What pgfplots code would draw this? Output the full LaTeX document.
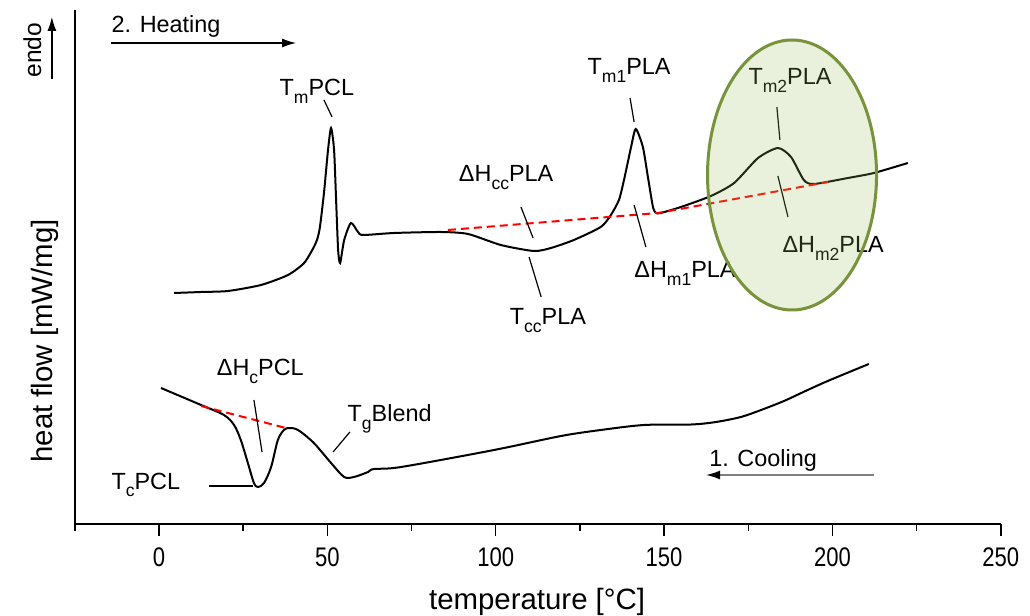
\documentclass[border=0pt]{standalone}
\usepackage{pgfplots}
\pgfplotsset{compat=1.18}
\usepackage{fontspec}
\usepackage{graphicx}
\setmainfont{Liberation Sans}
\newfontfamily\tickfont[FakeStretch=0.82]{Liberation Sans}
\usetikzlibrary{arrows.meta}
\definecolor{olivedge}{RGB}{119,147,60}
\definecolor{lgreen}{RGB}{155,187,89}
\newcommand{\sub}[1]{\raisebox{-0.3em}{\scalebox{0.75}{#1}}}
\tikzset{ann/.style={anchor=base, font=\fontsize{11.75}{14}\selectfont}}
\begin{document}
\begin{tikzpicture}
\path[use as bounding box] (-37.4bp,-46bp) rectangle (477.6bp,262bp);
\begin{axis}[
 scale only axis, width=463bp, height=257bp,
 xmin=-25, xmax=250, ymin=0, ymax=514,
 axis x line*=bottom, axis y line*=left,
 axis line style={line width=0.75bp},
 xtick={0,50,...,250}, minor xtick={-25,25,75,125,175,225},
 ytick=\empty,
 tick align=outside,
 major tick length=6bp, minor tick length=3.5bp,
 every tick/.style={black, line width=0.75bp},
 /pgf/number format/assume math mode=true,
 xticklabel style={font=\tickfont\fontsize{13.5}{15}\selectfont, yshift=-2.5bp},
 clip=false,
]
% curves
\addplot[black, line width=1bp, smooth, tension=0.4] coordinates {
(4.5,231)(12.5,232)(20.5,233)(30.3,239)(38.3,249)(43.1,261)(46.0,277)(47.1,286)(47.8,297)(49.0,331)(50.2,374)(51.1,396)(52.0,374)(52.6,324)(53.2,274)(53.8,261)(55.0,284)(57.0,301)(59.1,292)(60.6,289)(69.8,291)(83.8,292)(91.8,290)(101.5,279)(111.3,273)(116.4,276)(123.2,284)(131.2,297)(134.2,309)(136.6,324)(138.1,344)(140.2,377)(141.6,395)(143.7,377)(145.2,347)(146.7,317)(147.6,311)(149.0,311)(155.0,317)(163.9,328)(170.8,341)(177.9,366)(183.8,376)(187.7,367)(191.5,344)(194.5,340)(204.6,346)(212.3,351)(222.4,361)};
\addplot[black, line width=1bp, smooth, tension=0.5] coordinates {
(0.6,136)(12.5,119)(19.3,109)(22.3,99)(24.3,84)(26.4,61)(28.2,41)(29.4,37)(31.2,41)(33.3,57)(35.3,84)(37.1,94)(38.6,96)(41.3,94)(46.0,81)(51.1,61)(55.0,47)(57.9,47)(62.1,52)(63.8,55)(71.9,57)(99.5,74)(119.4,88)(131.2,94)(144.0,99)(158.0,99.5)(165.4,102)(172.8,107)(178.8,114)(185.6,123)(192.0,133)(198.6,143)(210.8,160)};
% baselines
\addplot[red, line width=1bp, dash pattern=on 4bp off 2.5bp] coordinates {(12.5,118)(37.7,96)};
\addplot[red, line width=1bp, dash pattern=on 4bp off 2.5bp] coordinates {(85.8,294)(148.2,311)(198.7,342)};
% axis labels
\node[anchor=base, font=\fontsize{14.75}{17}\selectfont] at (axis cs:112.3,-85) {temperature [°C]};
\node[anchor=base, rotate=90, font=\fontsize{14.75}{17}\selectfont] at (axis cs:-31.5,183) {heat flow [mW/mg]};
\node[anchor=base, rotate=90, font=\fontsize{12.3}{14}\selectfont] at (axis cs:-35,474) {endo};
\draw[line width=0.6bp, -{Latex[length=7bp,width=4.5bp]}] (axis cs:-31.8,445) -- (axis cs:-31.8,507);
% heating / cooling
\node[ann] at (axis cs:2.1,491) {2. Heating};
\draw[line width=0.6bp, -{Latex[length=7bp,width=4.5bp]}] (axis cs:-14.3,481) -- (axis cs:40.7,481);
\node[ann] at (axis cs:179.4,58) {1. Cooling};
\draw[gray, line width=0.6bp, -{Latex[length=7bp,width=4.5bp,black]}] (axis cs:212.4,49) -- (axis cs:162.5,49);
% annotations
\node[ann] at (axis cs:46.9,428) {T\sub{m}PCL};
\draw[line width=0.6bp] (axis cs:49.0,424) -- (axis cs:51.4,407);
\node[ann] at (axis cs:139.6,449) {T\sub{m1}PLA};
\draw[line width=0.6bp] (axis cs:139.9,426) -- (axis cs:141.1,402);
\node[ann] at (axis cs:103.1,342) {ΔH\sub{cc}PLA};
\draw[line width=0.6bp] (axis cs:107.5,317) -- (axis cs:111.1,286);
\node[ann] at (axis cs:115.5,199) {T\sub{cc}PLA};
\draw[line width=0.6bp] (axis cs:109.9,267) -- (axis cs:113.5,227);
\node[ann] at (axis cs:156.2,246) {ΔH\sub{m1}PLA};
\draw[line width=0.6bp] (axis cs:141.1,319) -- (axis cs:144.6,277);
\node[ann] at (axis cs:187.4,439) {T\sub{m2}PLA};
\draw[line width=0.6bp] (axis cs:183.5,417) -- (axis cs:184.4,384);
\node[ann] at (axis cs:200.2,271) {ΔH\sub{m2}PLA};
\draw[line width=0.6bp] (axis cs:183.8,348) -- (axis cs:186.8,307);
\node[ann] at (axis cs:30.1,148) {ΔH\sub{c}PCL};
\draw[line width=0.6bp] (axis cs:28.2,124) -- (axis cs:30.6,72);
\node[ann] at (axis cs:68.5,102) {T\sub{g}Blend};
\draw[line width=0.6bp] (axis cs:56.7,92) -- (axis cs:51.7,72);
\node[ann] at (axis cs:-3.9,35) {T\sub{c}PCL};
\draw[line width=0.6bp] (axis cs:14.9,38) -- (axis cs:27.9,38);
% highlight ellipse
\draw[draw=olivedge, line width=1.5bp, fill=lgreen, fill opacity=0.22, draw opacity=1] (axis cs:188.0,349) ellipse [x radius=42.25bp, y radius=67.5bp];
\end{axis}
\end{tikzpicture}
\end{document}
